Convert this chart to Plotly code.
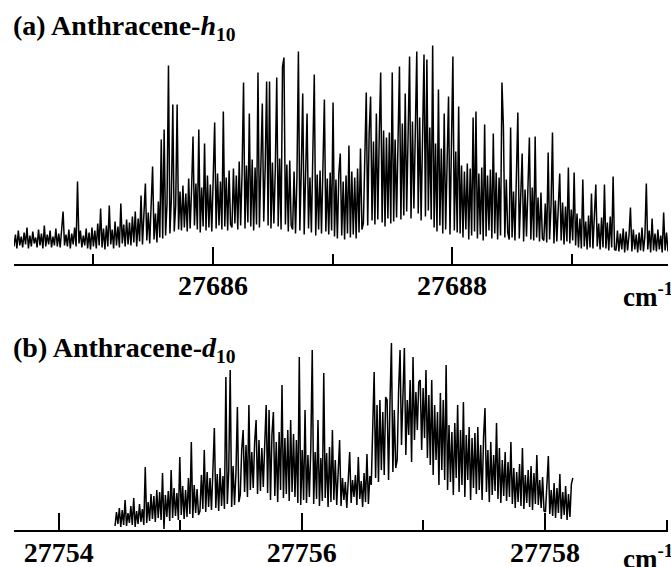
import numpy as np
import plotly.graph_objects as go

# ---------------- data ----------------
# Panel (a): Anthracene-h10, wavenumber span of the recorded trace
a_start, a_end = 27684.336, 27689.83
a_intensity = [
    17,29,15,33,18,27,16,31,19,36,15,28,17,32,20,26,16,34,18,30,15,38,17,29,19,33,16,27,18,35,17,30,
    16,31,52,18,29,17,34,15,30,19,36,17,82,20,33,16,28,18,35,15,31,
    14,36,17,33,15,40,18,55,16,35,14,38,17,58,19,34,15,42,18,37,16,60,20,39,17,44,19,41,
    18,47,21,52,17,45,22,68,19,49,80,23,51,20,58,97,24,50,21,62,26,
    124,25,134,28,60,198,30,65,159,32,58,159,34,72,
    33,78,36,70,32,85,35,74,127,38,80,34,134,31,76,37,120,33,88,36,79,32,84,141,35,90,38,82,34,152,37,86,33,93,39,
    36,95,40,88,34,102,38,92,181,35,98,41,150,37,104,33,96,39,191,36,100,160,42,97,182,38,182,35,101,40,94,186,37,105,34,197,206,39,99,32,103,38,
    34,92,30,87,212,33,94,170,29,90,150,35,86,31,95,189,28,89,34,93,30,88,164,32,85,29,91,33,
    161,27,84,25,90,110,28,82,24,88,30,118,26,92,29,86,25,95,31,115,34,
    40,125,171,38,130,167,43,122,39,150,44,128,191,41,133,37,126,45,131,40,191,42,124,46,135,197,44,140,
    48,170,52,138,207,45,142,55,134,212,50,146,43,139,209,47,204,53,136,44,218,
    36,120,32,174,38,115,30,150,34,122,167,29,118,207,33,112,31,
    157,30,98,26,92,34,100,24,95,28,146,32,152,25,90,29,96,23,139,27,88,33,94,25,130,30,91,24,86,28,181,137,26,84,31,
    24,136,26,72,23,77,151,25,70,110,22,74,27,68,126,24,76,23,127,26,66,22,71,25,
    23,60,21,111,24,58,131,20,63,22,55,90,23,61,19,57,22,96,20,54,23,91,18,50,
    16,45,15,84,17,42,14,48,16,70,15,44,79,17,40,14,46,16,79,15,41,13,47,16,87,14,
    13,33,12,30,14,35,11,32,13,28,56,12,34,14,29,11,31,13,36,12,27,80,14,33,11,45,13,30,12,34,14,28,11,51,13,31,12,26,14,
]

# Panel (b): Anthracene-d10
b_start, b_end = 27754.463, 27758.229
b_intensity = [
    4,18,6,22,3,20,5,30,4,17,7,24,5,32,3,19,6,26,8,21,5,63,7,28,
    9,36,11,34,8,40,12,38,10,57,1,35,13,39,9,60,12,42,14,37,10,73,15,44,11,40,13,52,16,88,12,45,17,41,15,
    19,55,21,80,18,58,23,52,20,60,102,22,56,19,62,24,54,21,153,26,59,160,23,64,25,57,123,28,
    35,80,100,38,85,33,125,40,78,42,88,110,36,90,39,82,43,86,125,37,120,
    30,95,118,34,88,28,98,40,145,32,92,36,100,29,110,38,96,33,90,27,173,
    25,80,30,120,27,75,33,82,180,26,78,31,110,24,72,29,157,32,77,23,83,28,100,30,70,25,68,90,
    24,52,30,48,22,56,78,27,50,33,55,25,73,31,49,23,57,28,76,26,54,
    45,110,158,52,125,48,130,60,118,55,133,130,50,128,187,58,120,62,
    70,140,180,85,145,182,75,130,95,150,68,173,90,138,100,148,150,80,142,92,160,72,135,65,
    150,55,125,70,118,45,137,60,130,50,
    165,40,105,48,98,35,107,52,125,38,100,45,128,33,95,50,103,30,92,42,97,
    36,103,40,85,30,93,122,38,80,28,88,35,75,39,107,31,82,27,70,34,78,29,68,33,
    88,26,62,22,58,28,66,24,82,21,55,27,60,23,64,20,57,26,75,25,50,22,53,19,
    18,45,74,16,40,14,47,12,42,17,56,11,38,15,44,10,36,13,46,52,
]

# axis settings
a_range = [27684.336, 27689.806]
a_major = [27686, 27688]
a_minor = [27685, 27687, 27689, 27689.80]
b_range = [27753.632, 27759.012]
b_major = [27754, 27756, 27758]
b_minor = [27755, 27757, 27759.0]

a_title = "<b>(a) Anthracene-<i>h</i><sub>10</sub></b>"
b_title = "<b>(b) Anthracene-<i>d</i><sub>10</sub></b>"
unit = "<b>cm<sup>-1</sup></b>"

# ---------------- figure ----------------
W, H = 671, 567
xa = np.linspace(a_start, a_end, len(a_intensity))
xb = np.linspace(b_start, b_end, len(b_intensity))

fig = go.Figure()
fig.add_trace(go.Scatter(x=xa, y=a_intensity, mode="lines",
                         line=dict(color="black", width=1.5), xaxis="x", yaxis="y",
                         showlegend=False, hoverinfo="skip"))
fig.add_trace(go.Scatter(x=xb, y=b_intensity, mode="lines",
                         line=dict(color="black", width=1.5), xaxis="x2", yaxis="y2",
                         showlegend=False, hoverinfo="skip"))

serif = "Liberation Serif, Times New Roman, serif"
tickfont = dict(family=serif, size=28, color="black")

def xax(rng, major, minor, anchor):
    return dict(
        domain=[14 / W, 668 / W], anchor=anchor, range=rng,
        showline=True, linecolor="black", linewidth=2,
        ticks="inside", ticklen=17, tickwidth=2, tickcolor="black",
        tickmode="array", tickvals=major,
        ticktext=["<b>%d</b>" % v for v in major],
        tickfont=tickfont, ticklabelstandoff=-4, automargin=False,
        showgrid=False, zeroline=False, fixedrange=True,
        minor=dict(tickmode="array", tickvals=minor, ticks="inside",
                   ticklen=10, tickwidth=2, tickcolor="black", showgrid=False),
    )

def yax(bottom_px, top_px, anchor):
    return dict(domain=[1 - bottom_px / H, 1 - top_px / H], anchor=anchor,
                range=[0, bottom_px - top_px], visible=False, automargin=False,
                showgrid=False, zeroline=False, fixedrange=True)

fig.update_layout(
    width=W, height=H,
    margin=dict(l=0, r=0, t=0, b=0),
    paper_bgcolor="white", plot_bgcolor="white",
    xaxis=xax(a_range, a_major, a_minor, "y"),
    yaxis=yax(263.5, 40, "x"),
    xaxis2=xax(b_range, b_major, b_minor, "y2"),
    yaxis2=yax(530, 330, "x2"),
    annotations=[
        dict(text=a_title, x=11 / W, y=1 - 27 / H, xref="paper", yref="paper",
             xanchor="left", yanchor="middle", showarrow=False,
             font=dict(family=serif, size=28, color="black")),
        dict(text=b_title, x=11 / W, y=1 - 349 / H, xref="paper", yref="paper",
             xanchor="left", yanchor="middle", showarrow=False,
             font=dict(family=serif, size=28, color="black")),
        dict(text=unit, x=621 / W, y=1 - 295 / H, xref="paper", yref="paper",
             xanchor="left", yanchor="middle", showarrow=False,
             font=dict(family=serif, size=27, color="black")),
        dict(text=unit, x=621 / W, y=1 - 557 / H, xref="paper", yref="paper",
             xanchor="left", yanchor="middle", showarrow=False,
             font=dict(family=serif, size=27, color="black")),
    ],
)

fig.write_html("out.html", config={"displayModeBar": False},
               post_script="document.body.style.margin='0';document.body.style.overflow='hidden';")
